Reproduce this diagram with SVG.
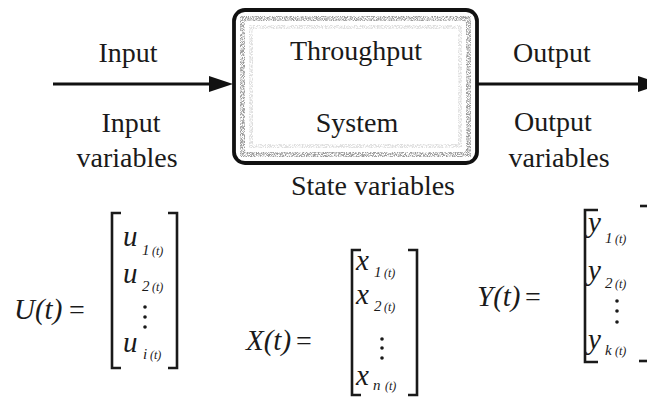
<svg xmlns="http://www.w3.org/2000/svg" width="647" height="398" viewBox="0 0 647 398" font-family="Liberation Serif, Times New Roman, serif">
<style>
text{fill:#1a1a1a}
.lbl{font-size:28px}
.c{text-anchor:middle}
.m{font-style:italic;font-size:29px}
.eq{font-size:28px}
.s1{font-style:italic;font-size:15px}
.s2{font-style:italic;font-size:12px}
.br{fill:none;stroke:#1a1a1a;stroke-width:2.6}
.conn{stroke:#111;stroke-width:3;fill:none}
.dot{fill:#1a1a1a}
</style>
<defs>
<marker id="ah" markerUnits="userSpaceOnUse" markerWidth="24" markerHeight="16" refX="14" refY="8" orient="auto">
<path d="M0,0 L24,8 L0,16 z" fill="#111"/>
</marker>
<filter id="grain" x="0" y="0" width="1" height="1">
<feTurbulence type="fractalNoise" baseFrequency="1.1" numOctaves="2" seed="11" result="n"/>
<feColorMatrix in="n" type="matrix" values="0 0 0 0 0.2  0 0 0 0 0.2  0 0 0 0 0.2  0 0 0 -4 2.5" result="d"/>
<feComposite in="d" in2="SourceGraphic" operator="in"/>
</filter>
</defs>
<g id="connectors">
<line class="conn" x1="53" y1="84" x2="223" y2="84" marker-end="url(#ah)"/>
<line class="conn" x1="477" y1="84" x2="652" y2="84" marker-end="url(#ah)"/>
</g>
<g id="system">
<rect x="234" y="10" width="243" height="153" rx="11" fill="#fff"/>
<rect x="240" y="16" width="231" height="141" rx="7" fill="none" stroke="#000" stroke-width="10" stroke-opacity="0.75" filter="url(#grain)"/>
<rect x="249" y="25" width="213" height="123" rx="4" fill="none" stroke="#000" stroke-width="8" stroke-opacity="0.25" filter="url(#grain)"/>
<rect x="234" y="10" width="243" height="153" rx="11" fill="none" stroke="#111" stroke-width="3.8"/>
<text class="lbl c" x="356" y="60">Throughput</text>
<text class="lbl c" x="357" y="132">System</text>
</g>
<g id="input-labels">
<text class="lbl c" x="128" y="62">Input</text>
<text class="lbl c" x="131" y="132">Input</text>
<text class="lbl c" x="127" y="167">variables</text>
</g>
<g id="output-labels">
<text class="lbl c" x="552" y="62">Output</text>
<text class="lbl c" x="553" y="131">Output</text>
<text class="lbl c" x="559" y="167">variables</text>
</g>
<g id="state-label">
<text class="lbl c" x="373" y="195">State variables</text>
</g>
<g id="U-vector">
<text class="m" x="14" y="319">U(t)</text>
<text class="eq" x="69" y="319">=</text>
<path class="br" d="M121,213 H112 V368 H121"/>
<path class="br" d="M168,213 H177 V368 H168"/>
<text class="m" x="123" y="246">u</text><text class="s1" x="142" y="255">1</text><text class="s2" x="152" y="255">(t)</text>
<text class="m" x="123" y="283">u</text><text class="s1" x="142" y="291">2</text><text class="s2" x="152" y="291">(t)</text>
<circle class="dot" cx="145" cy="307" r="1.8"/><circle class="dot" cx="145" cy="317" r="1.8"/><circle class="dot" cx="145" cy="327" r="1.8"/>
<text class="m" x="123" y="352">u</text><text class="s1" x="143" y="359">i</text><text class="s2" x="150" y="359">(t)</text>
</g>
<g id="X-vector">
<text class="m" x="246" y="350">X(t)</text>
<text class="eq" x="296" y="350">=</text>
<path class="br" d="M361,250 H352 V395 H361"/>
<path class="br" d="M408,250 H417 V395 H408"/>
<text class="m" x="356" y="270">x</text><text class="s1" x="374" y="277">1</text><text class="s2" x="384" y="277">(t)</text>
<text class="m" x="356" y="304">x</text><text class="s1" x="374" y="311">2</text><text class="s2" x="384" y="311">(t)</text>
<circle class="dot" cx="382" cy="339" r="1.8"/><circle class="dot" cx="382" cy="348" r="1.8"/><circle class="dot" cx="382" cy="358" r="1.8"/>
<text class="m" x="356" y="385">x</text><text class="s1" x="373" y="390">n</text><text class="s2" x="385" y="390">(t)</text>
</g>
<g id="Y-vector">
<text class="m" x="477" y="306">Y(t)</text>
<text class="eq" x="525" y="306">=</text>
<path class="br" d="M598,210 H585 V362 H598"/>
<path class="br" d="M640,206 H647"/>
<path class="br" d="M639,361 H647"/>
<text class="m" x="588" y="232">y</text><text class="s1" x="605" y="243">1</text><text class="s2" x="615" y="243">(t)</text>
<text class="m" x="588" y="280">y</text><text class="s1" x="605" y="288">2</text><text class="s2" x="615" y="288">(t)</text>
<circle class="dot" cx="617" cy="301" r="1.8"/><circle class="dot" cx="617" cy="311" r="1.8"/><circle class="dot" cx="617" cy="322" r="1.8"/>
<text class="m" x="588" y="349">y</text><text class="s1" x="605" y="355">k</text><text class="s2" x="615" y="355">(t)</text>
</g>
</svg>
